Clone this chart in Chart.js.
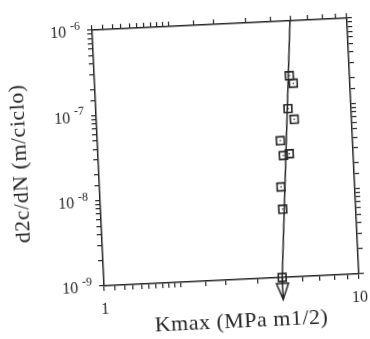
<!DOCTYPE html>
<html>
<head>
<meta charset="utf-8">
<script src="https://cdn.jsdelivr.net/npm/chart.js@4"></script>
<style>
  body { margin: 0; background: #fff; }
  #wrap { position: relative; width: 370px; height: 339px; overflow: hidden; }
  #chart {
    position: absolute; left: 0; top: 0;
    transform-origin: 225.75px 151.9px;
    transform: rotate(-2.7deg);
  }
</style>
</head>
<body>
<div id="wrap"><canvas id="chart" width="370" height="339"></canvas></div>
<script>
// measured points (Kmax, d2c/dN)
const kmax = [5.81, 6.00, 5.66, 5.96, 5.21, 5.32, 5.62, 5.14, 5.17, 5.00];
const rate = [2.28e-7, 1.85e-7, 9.4e-8, 7.0e-8, 4.0e-8, 2.67e-8, 2.78e-8, 1.15e-8, 6.3e-9, 1.0e-9];

// fitted line
const fitK = [5.0, 5.98];
const fitRate = [1e-9, 1e-6];

// arrow under the last point
const arrowK = 5.0;

// tick labels
const xTickVals = [1, 10];
const xTickText = ['1', '10'];
const yTickVals = [1e-9, 1e-8, 1e-7, 1e-6];
const yTickExp = ['-9', '-8', '-7', '-6'];

const xTitle = 'Kmax (MPa m1/2)';
const yTitle = 'd2c/dN (m/ciclo)';

const INK = '#262626';
const SERIF = '"Liberation Serif", "DejaVu Serif", serif';

const points = kmax.map((k, i) => ({x: k, y: rate[i]}));
const fit = fitK.map((k, i) => ({x: k, y: fitRate[i]}));

function logAxis(axis, position, min, max) {
    return {
        type: 'logarithmic',
        axis: axis,
        position: position,
        min: min,
        max: max,
        ticks: {display: false, autoSkip: false},
        grid: {drawOnChartArea: false, drawTicks: true, tickLength: 5, color: INK, lineWidth: 1.2},
        border: {display: true, color: INK, width: 1.5},
        afterFit(scale) {
            if (axis === 'x') scale.height = 5; else scale.width = 5;
        }
    };
}

const inkPlugin = {
    id: 'ink',
    afterDatasetsDraw(chart) {
        const {ctx, chartArea, scales} = chart;
        const x = scales.x.getPixelForValue(arrowK);
        const y0 = chartArea.bottom;
        ctx.save();
        ctx.strokeStyle = INK;
        ctx.lineWidth = 1.5;
        ctx.beginPath();
        ctx.moveTo(x, y0);
        ctx.lineTo(x, y0 + 22);
        ctx.moveTo(x - 6, y0 + 6);
        ctx.lineTo(x + 6, y0 + 6);
        ctx.lineTo(x, y0 + 22);
        ctx.closePath();
        ctx.stroke();
        ctx.restore();
    },
    afterDraw(chart) {
        const {ctx, chartArea, scales} = chart;
        ctx.save();
        ctx.fillStyle = INK;

        // x tick labels
        ctx.font = '16px ' + SERIF;
        ctx.textAlign = 'center';
        ctx.textBaseline = 'middle';
        xTickVals.forEach((v, i) => {
            ctx.fillText(xTickText[i], scales.x.getPixelForValue(v), chartArea.bottom + 24);
        });

        // y tick labels: 10 with raised exponent
        yTickVals.forEach((v, i) => {
            const y = scales.y.getPixelForValue(v);
            const right = chartArea.left - 12;
            ctx.font = '12px ' + SERIF;
            ctx.textAlign = 'right';
            ctx.fillText(yTickExp[i], right, y - 4);
            const w = ctx.measureText(yTickExp[i]).width;
            ctx.font = '16px ' + SERIF;
            ctx.fillText('10', right - w - 4, y + 2);
        });

        // axis titles
        ctx.font = '22px ' + SERIF;
        ctx.letterSpacing = '0.5px';
        ctx.textAlign = 'center';
        ctx.fillText(xTitle, (chartArea.left + chartArea.right) / 2 + 8, chartArea.bottom + 42);

        ctx.translate(chartArea.left - 78, (chartArea.top + chartArea.bottom) / 2 + 2);
        ctx.rotate(-Math.PI / 2);
        ctx.fillText(yTitle, 0, 0);
        ctx.restore();
    }
};

new Chart(document.getElementById('chart').getContext('2d'), {
    type: 'scatter',
    data: {
        datasets: [
            {
                type: 'line',
                data: fit,
                borderColor: INK,
                borderWidth: 1.5,
                pointRadius: 0,
                fill: false,
                clip: false
            },
            {
                data: points,
                pointStyle: 'rect',
                pointRadius: 5.5,
                borderColor: INK,
                borderWidth: 1.6,
                backgroundColor: 'rgba(255,255,255,0)',
                clip: false
            },
            {
                data: points,
                pointStyle: 'circle',
                pointRadius: 0.8,
                borderWidth: 0,
                backgroundColor: INK,
                clip: false
            }
        ]
    },
    options: {
        responsive: false,
        animation: false,
        events: [],
        layout: {padding: {left: 93, right: 12, top: 19, bottom: 54}},
        plugins: {legend: {display: false}, tooltip: {enabled: false}},
        scales: {
            x: logAxis('x', 'bottom', 1, 10),
            xTop: logAxis('x', 'top', 1, 10),
            y: logAxis('y', 'left', 1e-9, 1e-6),
            yRight: logAxis('y', 'right', 1e-9, 1e-6)
        }
    },
    plugins: [inkPlugin]
});
</script>
</body>
</html>
